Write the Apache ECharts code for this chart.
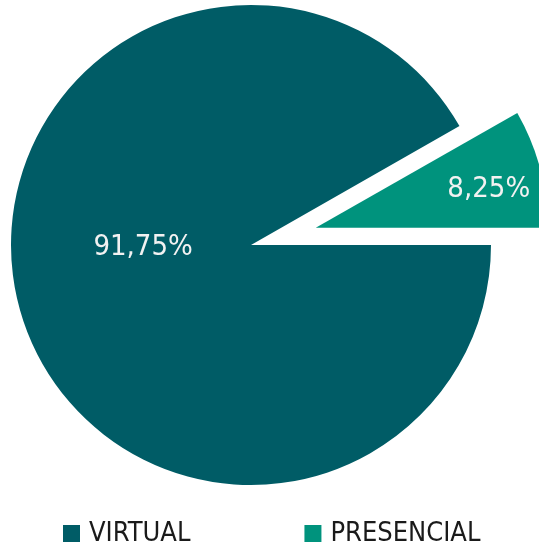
<!DOCTYPE html>
<html><head><meta charset="utf-8">
<script src="https://cdn.jsdelivr.net/npm/echarts@6/dist/echarts.min.js"></script>
<style>html,body{margin:0;padding:0;background:#fff}#c{width:539px;height:549px}</style>
</head><body><div id="c"></div>
<script>
const categories = ['VIRTUAL', 'PRESENCIAL'];
const values = [91.75, 8.25];
const colors = ['#005c66', '#00937d'];
const radii = [240, 232];
const labelShift = [[11, -29], [58, -8]];
const FONT = '"Liberation Sans Narrow", "DejaVu Sans Condensed", sans-serif';

function fmt(v) { return v.toFixed(2).replace('.', ',') + '%'; }

// one pie series per category; the other slice is an invisible placeholder
const series = categories.map((cat, k) => ({
  type: 'pie',
  center: [251, 245],
  radius: radii[k],
  clockwise: false,
  startAngle: 29.7,
  selectedMode: 'single',
  selectedOffset: 67,
  emphasis: { disabled: true },
  silent: true,
  labelLine: { show: false },
  labelLayout: p => ({ dx: labelShift[k][0], dy: labelShift[k][1] }),
  data: categories.map((c, i) => i === k ? {
    name: c, value: values[i], selected: k === 1,
    itemStyle: { color: colors[i] },
    label: {
      show: true, position: 'inner', formatter: p => fmt(p.value),
      fontFamily: FONT, fontSize: 29, color: '#f2f2f2'
    }
  } : {
    name: '_' + c, value: values[i],
    itemStyle: { color: 'rgba(0,0,0,0)' },
    label: { show: false }
  })
}));

const chart = echarts.init(document.getElementById('c'));
chart.setOption({
  animation: false,
  legend: {
    data: categories,
    left: 58, top: 515,
    itemWidth: 17, itemHeight: 17, itemGap: 114,
    icon: 'rect',
    textStyle: { fontFamily: FONT, fontSize: 27, color: '#1a1a1a', padding: [2, 0, 0, 4] }
  },
  series: series
});
</script></body></html>
